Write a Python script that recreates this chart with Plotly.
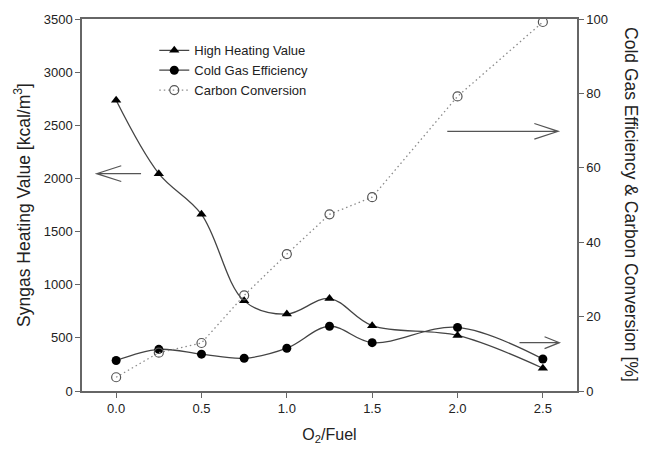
import plotly.graph_objects as go

o2_fuel = [0.0, 0.25, 0.5, 0.75, 1.0, 1.25, 1.5, 2.0, 2.5]
hhv = [2735, 2045, 1662, 848, 724, 870, 615, 523, 214]
cge = [8.2, 11.2, 9.9, 8.8, 11.5, 17.4, 13.0, 17.1, 8.6]
carbon_conv = [3.7, 10.3, 12.9, 25.7, 36.8, 47.5, 52.1, 79.2, 99.2]

x_ticks = [0.0, 0.5, 1.0, 1.5, 2.0, 2.5]
y_ticks = [0, 500, 1000, 1500, 2000, 2500, 3000, 3500]
y2_ticks = [0, 20, 40, 60, 80, 100]

FONT = "Liberation Sans, Arial, sans-serif"
TXT = "#222222"
AX = "#666666"

fig = go.Figure()
fig.add_trace(go.Scatter(
    x=o2_fuel, y=hhv, name="High Heating Value", mode="lines+markers",
    line=dict(color="#444444", width=1.3, shape="spline", smoothing=1.0),
    marker=dict(symbol="triangle-up", size=9, color="black"),
    yaxis="y"))
fig.add_trace(go.Scatter(
    x=o2_fuel, y=cge, name="Cold Gas Efficiency", mode="lines+markers",
    line=dict(color="#444444", width=1.3, shape="spline", smoothing=1.0),
    marker=dict(symbol="circle", size=9, color="black"),
    yaxis="y2"))
fig.add_trace(go.Scatter(
    x=o2_fuel, y=carbon_conv, name="Carbon Conversion", mode="lines+markers",
    line=dict(color="#8a8a8a", width=1.3, dash="1.5px,3px"),
    marker=dict(symbol="circle-open", size=9, color="#555555", line=dict(width=1.2)),
    yaxis="y2"))

def arrow(x0, x1, y, hx, d, yref):
    # shaft from x1 to tip x0, open head back to hx with half-height d
    return dict(type="path", xref="x", yref=yref,
                path=f"M {x1},{y} L {x0},{y} M {hx},{y + d} L {x0},{y} L {hx},{y - d}",
                line=dict(color="#555555", width=1.2))

shapes = [
    arrow(-0.114, 0.146, 2045, 0.03, 74, "y"),
    arrow(2.59, 1.94, 69.8, 2.45, 2.1, "y2"),
    arrow(2.597, 2.363, 13.0, 2.51, 1.6, "y2"),
]

fig.update_layout(
    width=653, height=453,
    margin=dict(l=82, r=76, t=16, b=60),
    paper_bgcolor="white", plot_bgcolor="white",
    font=dict(family=FONT, size=13, color=TXT),
    showlegend=True,
    legend=dict(x=0.146, y=0.956, xanchor="left", yanchor="top",
                bgcolor="rgba(0,0,0,0)", font=dict(size=13, color=TXT),
                itemwidth=30, tracegroupgap=0),
    xaxis=dict(range=[-0.2, 2.7], tickvals=x_ticks, tickformat=".1f",
               showgrid=False, zeroline=False, showline=True, linecolor=AX,
               linewidth=1.5, mirror=True, ticks="outside", ticklen=5,
               tickcolor=AX,
               title=dict(text="O<sub>2</sub>/Fuel", font=dict(size=16), standoff=13)),
    yaxis=dict(range=[0, 3500], tickvals=y_ticks, showgrid=False, zeroline=False,
               showline=True, linecolor=AX, linewidth=1.5, ticks="outside",
               ticklen=5, tickcolor=AX,
               title=dict(text="Syngas Heating Value [kcal/m<sup>3</sup>]",
                          font=dict(size=17.5), standoff=9)),
    yaxis2=dict(range=[0, 100], tickvals=y2_ticks, overlaying="y", side="right",
                showgrid=False, zeroline=False, showline=True, linecolor=AX,
                linewidth=1.5, ticks="outside", ticklen=5, tickcolor=AX),
    shapes=shapes,
    annotations=[dict(text="Cold Gas Efficiency & Carbon Conversion [%]",
                      xref="paper", yref="paper", x=1.109, y=0.5,
                      xanchor="center", yanchor="middle",
                      textangle=90, showarrow=False, font=dict(size=17.5, color=TXT))],
)

fig.write_html("out.html")
